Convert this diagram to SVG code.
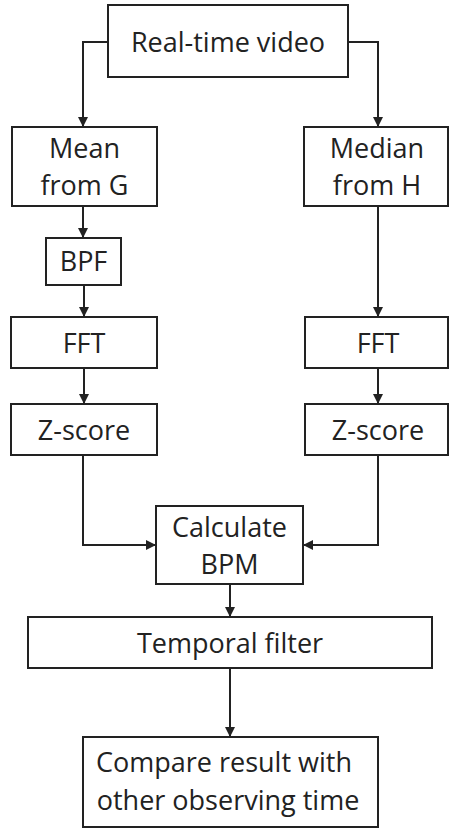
<svg xmlns="http://www.w3.org/2000/svg" width="449" height="829" viewBox="0 0 449 829">
  <style>
    .box { fill: #ffffff; stroke: #222222; stroke-width: 2; }
    .lbl { font-family: "Open Sans", "Noto Sans", "DejaVu Sans", sans-serif; font-size: 27px; fill: #222222; text-anchor: middle; }
    .wire { fill: none; stroke: #222222; stroke-width: 2; }
  </style>
  <defs>
    <marker id="arrow" viewBox="0 0 10 10" refX="10" refY="5" markerWidth="5" markerHeight="5" orient="auto" markerUnits="strokeWidth">
      <path d="M0,0 L10,5 L0,10 Z" fill="#222222"/>
    </marker>
  </defs>
  <rect width="449" height="829" fill="#ffffff"/>

  <g id="connectors">
    <path class="wire" d="M108,42 H83 V127" marker-end="url(#arrow)"/>
    <path class="wire" d="M348,42 H378 V127" marker-end="url(#arrow)"/>
    <path class="wire" d="M83,206 V238" marker-end="url(#arrow)"/>
    <path class="wire" d="M84,285 V317" marker-end="url(#arrow)"/>
    <path class="wire" d="M378,206 V317" marker-end="url(#arrow)"/>
    <path class="wire" d="M84,368 V404" marker-end="url(#arrow)"/>
    <path class="wire" d="M378,368 V404" marker-end="url(#arrow)"/>
    <path class="wire" d="M83,455 V545 H156" marker-end="url(#arrow)"/>
    <path class="wire" d="M378,455 V545 H303" marker-end="url(#arrow)"/>
    <path class="wire" d="M230,584 V617" marker-end="url(#arrow)"/>
    <path class="wire" d="M230,668 V737" marker-end="url(#arrow)"/>
  </g>

  <g id="realtime-video">
    <rect class="box" x="108" y="5" width="240" height="72"/>
    <text class="lbl" x="228" y="52">Real-time video</text>
  </g>
  <g id="mean-g">
    <rect class="box" x="12" y="127" width="145" height="79"/>
    <text class="lbl" x="84.5" y="158">Mean</text>
    <text class="lbl" x="84.5" y="195">from G</text>
  </g>
  <g id="median-h">
    <rect class="box" x="304" y="127" width="144" height="79"/>
    <text class="lbl" x="377" y="158">Median</text>
    <text class="lbl" x="377" y="195">from H</text>
  </g>
  <g id="bpf">
    <rect class="box" x="46" y="238" width="75" height="47"/>
    <text class="lbl" x="83.5" y="271">BPF</text>
  </g>
  <g id="fft-left">
    <rect class="box" x="11" y="317" width="146" height="51"/>
    <text class="lbl" x="84" y="353">FFT</text>
  </g>
  <g id="fft-right">
    <rect class="box" x="305" y="317" width="143" height="51"/>
    <text class="lbl" x="378" y="353">FFT</text>
  </g>
  <g id="zscore-left">
    <rect class="box" x="11" y="404" width="146" height="51"/>
    <text class="lbl" x="84" y="440">Z-score</text>
  </g>
  <g id="zscore-right">
    <rect class="box" x="305" y="404" width="143" height="51"/>
    <text class="lbl" x="378" y="440">Z-score</text>
  </g>
  <g id="calculate-bpm">
    <rect class="box" x="156" y="506" width="147" height="78"/>
    <text class="lbl" x="229.5" y="537">Calculate</text>
    <text class="lbl" x="229.5" y="574">BPM</text>
  </g>
  <g id="temporal-filter">
    <rect class="box" x="28" y="617" width="404" height="51"/>
    <text class="lbl" x="230" y="653">Temporal filter</text>
  </g>
  <g id="compare-result">
    <rect class="box" x="83" y="737" width="295" height="90"/>
    <text class="lbl" x="224" y="772">Compare result with</text>
    <text class="lbl" x="228" y="810">other observing time</text>
  </g>
</svg>
